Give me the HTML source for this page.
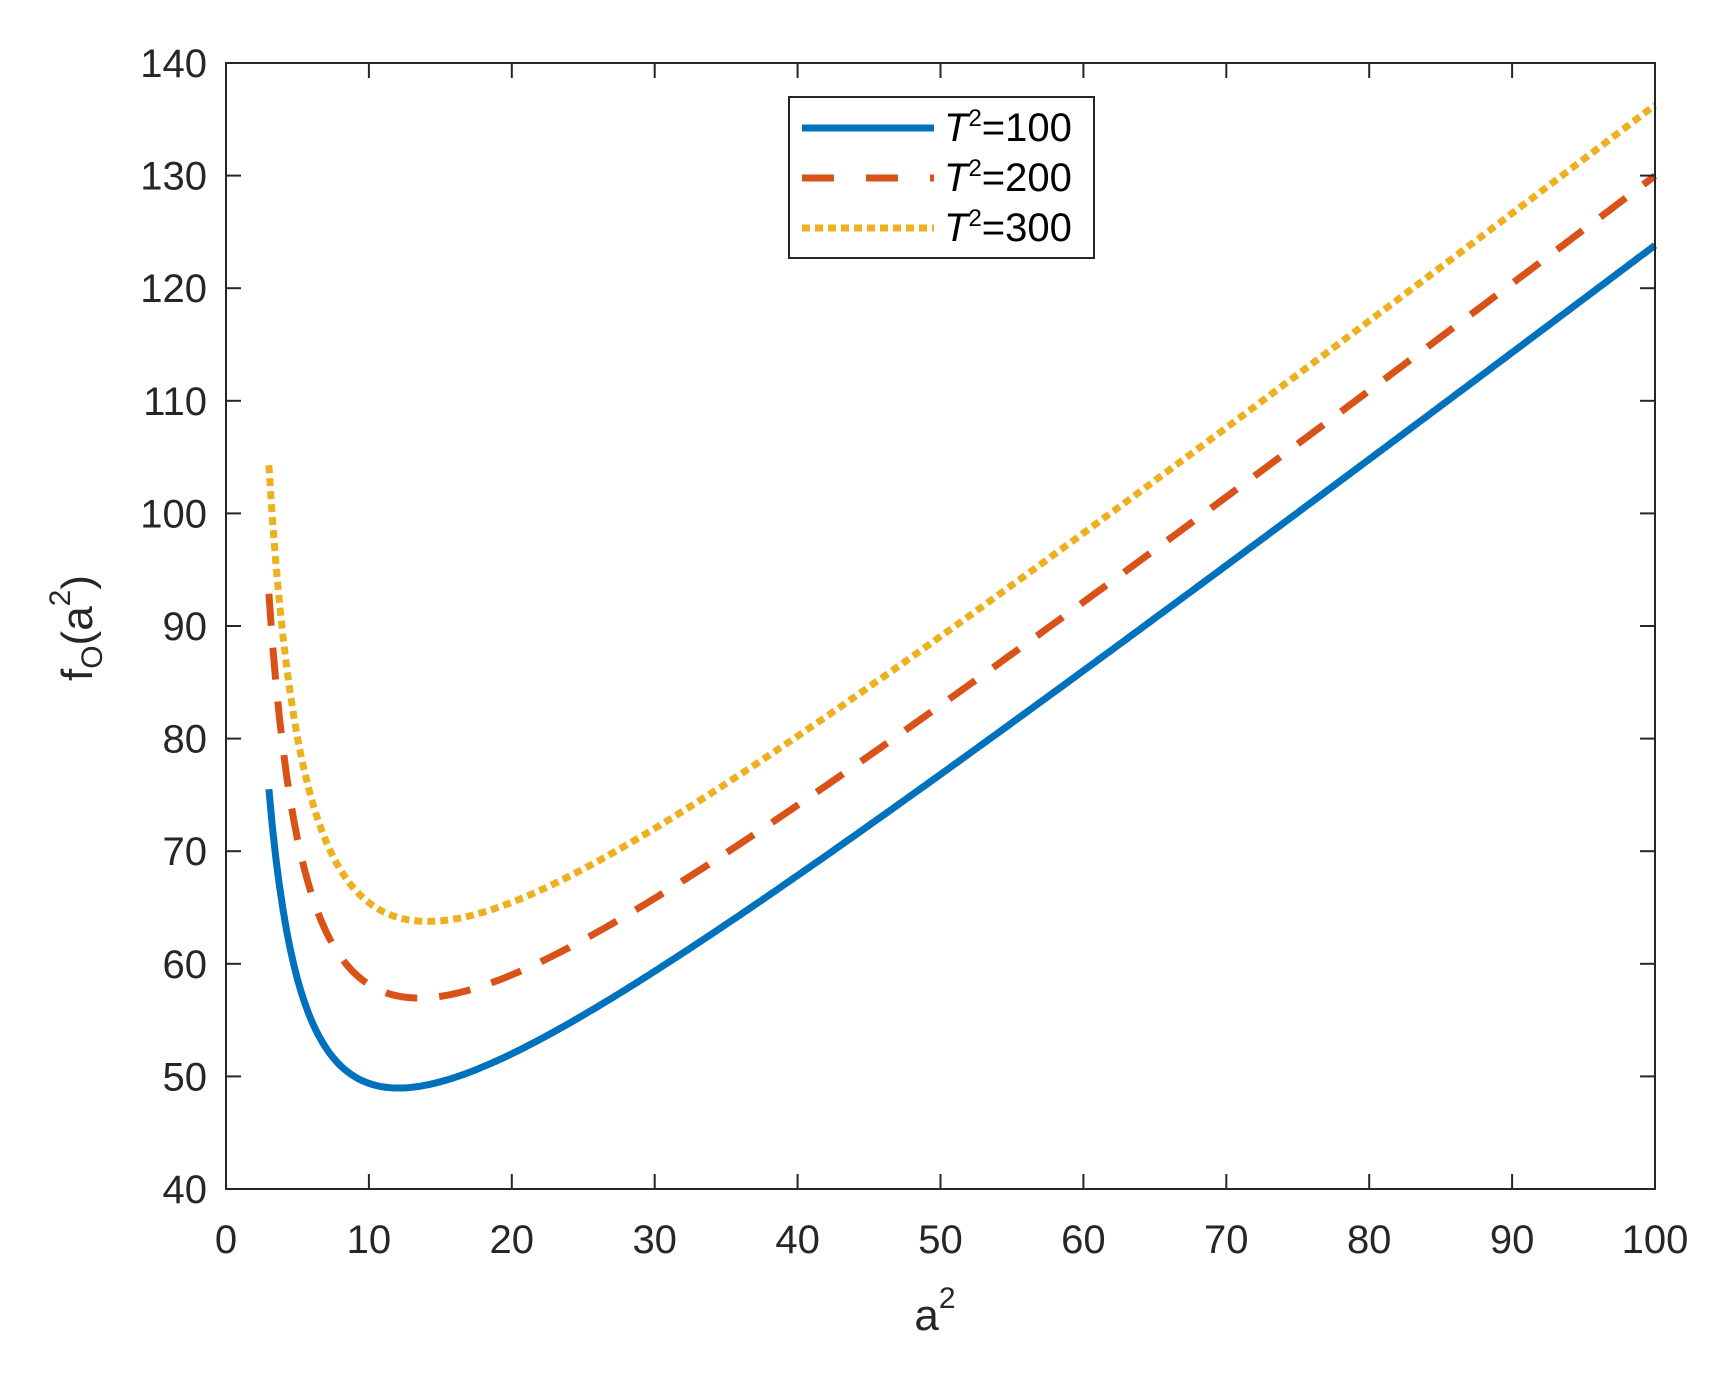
<!DOCTYPE html>
<html><head><meta charset="utf-8"><style>
html,body{margin:0;padding:0;background:#fff;}
svg text{font-family:"Liberation Sans",sans-serif;fill:#262626;}
</style></head><body>
<svg id="s" width="1718" height="1369" viewBox="0 0 1718 1369" xmlns="http://www.w3.org/2000/svg">
<rect width="1718" height="1369" fill="#fff"/>
<g id="curves" fill="none" stroke-linejoin="round"></g>
<rect x="226" y="63" width="1429" height="1126" fill="none" stroke="#262626" stroke-width="2"/>
<g id="ticks" stroke="#262626" stroke-width="2"></g>
<g id="labels" font-size="40"></g>
<text x="935" y="1330" font-size="44" text-anchor="middle">a<tspan dy="-22" font-size="30">2</tspan></text>
<g transform="translate(92,628) rotate(-90)">
<text x="0" y="0" font-size="44" text-anchor="middle">f<tspan dy="10" font-size="30">O</tspan><tspan dy="-10">(a</tspan><tspan dy="-22" font-size="30">2</tspan><tspan dy="22">)</tspan></text>
</g>
<rect x="789" y="97" width="305" height="161" fill="#fff" stroke="#262626" stroke-width="2"/>
<line x1="802" y1="128" x2="934" y2="128" stroke="#0072BD" stroke-width="7"/>
<line x1="802" y1="178" x2="934" y2="178" stroke="#D95319" stroke-width="7" stroke-dasharray="32,32"/>
<line x1="802" y1="228" x2="934" y2="228" stroke="#EDB120" stroke-width="7" stroke-dasharray="8,5"/>
<g font-family="Liberation Serif,serif" font-size="40" fill="#000">
<text x="944" y="141" style="fill:#000"><tspan font-style="italic">T</tspan><tspan dy="-15" font-size="24">2</tspan><tspan dy="15">=100</tspan></text>
<text x="944" y="191" style="fill:#000"><tspan font-style="italic">T</tspan><tspan dy="-15" font-size="24">2</tspan><tspan dy="15">=200</tspan></text>
<text x="944" y="241" style="fill:#000"><tspan font-style="italic">T</tspan><tspan dy="-15" font-size="24">2</tspan><tspan dy="15">=300</tspan></text>
</g>
</svg>
<script>
var NS="http://www.w3.org/2000/svg";
function X(v){return 226+v*14.29;}
function Y(v){return 1189-(v-40)*11.26;}
var t=document.getElementById('ticks'),l=document.getElementById('labels');
function el(p,tag,a,txt){var e=document.createElementNS(NS,tag);for(var k in a)e.setAttribute(k,a[k]);if(txt!=null)e.textContent=txt;p.appendChild(e);}
for(var i=0;i<=10;i++){var x=X(i*10);
 el(t,'line',{x1:x,y1:1189,x2:x,y2:1174});el(t,'line',{x1:x,y1:63,x2:x,y2:78});
 el(l,'text',{x:x,y:1253,'text-anchor':'middle'},String(i*10));}
for(var v=40;v<=140;v+=10){var y=Y(v);
 el(t,'line',{x1:226,y1:y,x2:241,y2:y});el(t,'line',{x1:1655,y1:y,x2:1640,y2:y});
 el(l,'text',{x:207,y:y+14,'text-anchor':'end'},String(v));}
var c=document.getElementById('curves');
var P=[[0.968,141,25.6,'#0072BD',''],[0.976,178,30.6,'#D95319','32,22'],[0.983,196,36.0,'#EDB120','8,5']];
P.forEach(function(p){var d='';for(var a=3;a<=100.001;a+=0.25){var f=p[0]*a+p[1]/a+p[2];d+=(d?'L':'M')+X(a).toFixed(1)+','+Y(f).toFixed(1);}
 var o={d:d,stroke:p[3],'stroke-width':7};if(p[4])o['stroke-dasharray']=p[4];el(c,'path',o);});
</script>
</body></html>
